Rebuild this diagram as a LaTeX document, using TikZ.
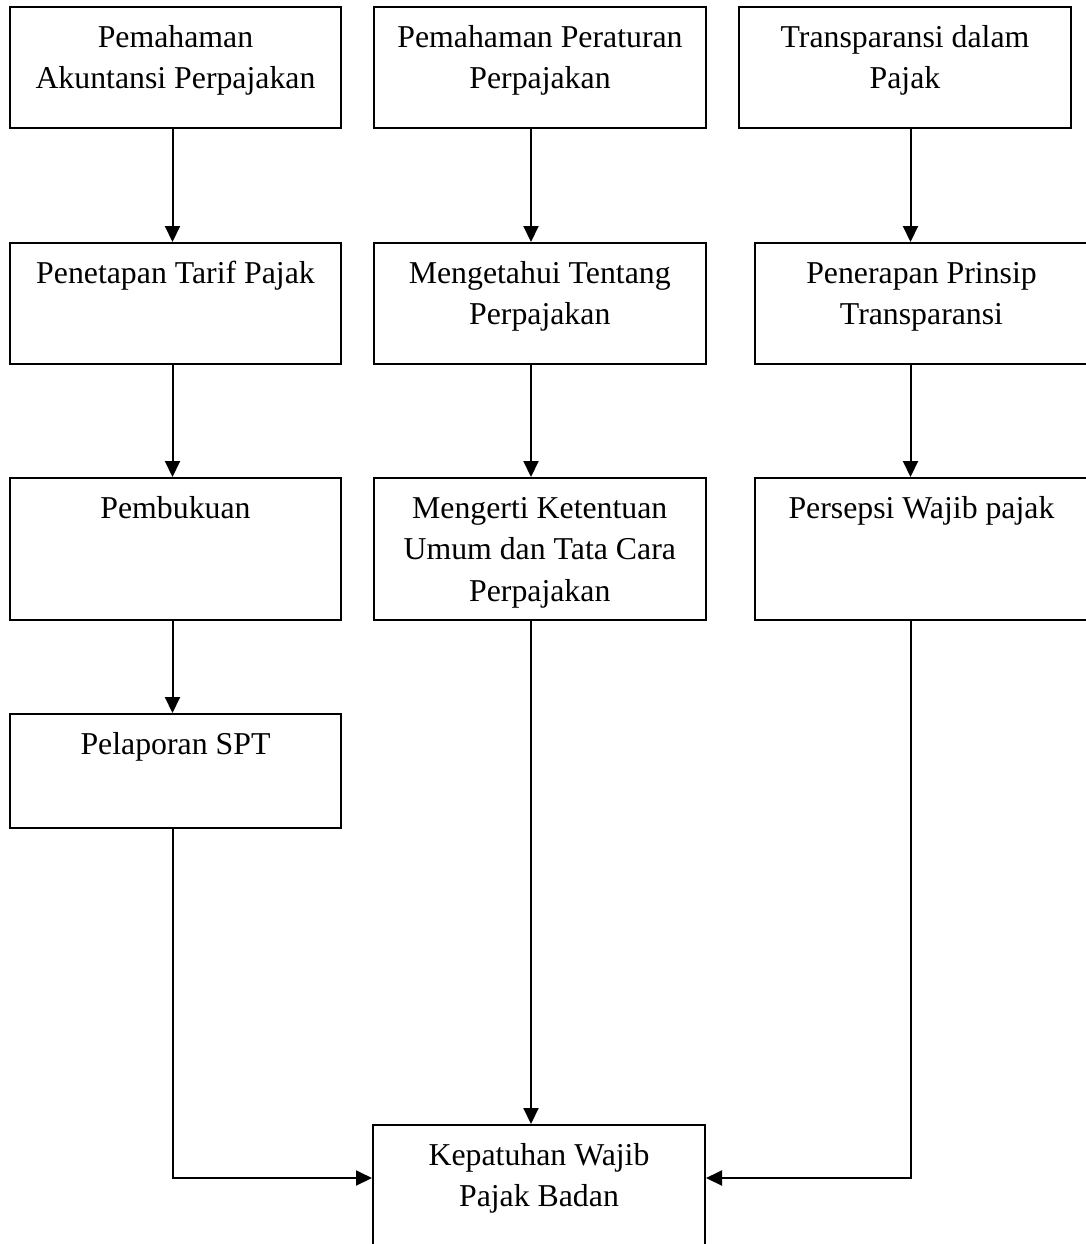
\documentclass[tikz,border=0pt]{standalone}
\usepackage{fontspec}
\setmainfont{Liberation Serif}
\usetikzlibrary{arrows.meta,calc}
\newcommand{\myTopStrut}{\rule{0pt}{11pt}}
\tikzset{
  box/.style={draw, line width=1pt, rectangle, inner sep=0pt},
  lbl/.style={anchor=north, align=center, inner sep=0pt, font=\fontsize{15.9}{20.75}\selectfont},
  arr/.style={line width=1pt, -{Triangle[length=8pt,width=7.5pt]}}
}
\begin{document}
\begin{tikzpicture}[x=0.5pt,y=-0.5pt]
\useasboundingbox (0,0) rectangle (1086,1244);
\fill[white] (0,0) rectangle (1086,1244);
\clip (0,0) rectangle (1086,1244);
% column 1
\node[box, minimum width=165.5pt, minimum height=60.5pt] (b11) at (175.5,67.5) {};
\node[box, minimum width=165.5pt, minimum height=60.5pt] (b12) at (175.5,303.5) {};
\node[box, minimum width=165.5pt, minimum height=71pt] (b13) at (175.5,549) {};
\node[box, minimum width=165.5pt, minimum height=57pt] (b14) at (175.5,771) {};
% column 2
\node[box, minimum width=166pt, minimum height=60.5pt] (b21) at (540,67.5) {};
\node[box, minimum width=166.25pt, minimum height=60.5pt] (b22) at (539.75,303.5) {};
\node[box, minimum width=166.25pt, minimum height=71pt] (b23) at (539.75,549) {};
% column 3
\node[box, minimum width=166pt, minimum height=60.5pt] (b31) at (905,67.5) {};
\node[box, minimum width=166.5pt, minimum height=60.5pt] (b32) at (921.5,303.5) {};
\node[box, minimum width=166.5pt, minimum height=71pt] (b33) at (921.5,549) {};
% final
\node[box, minimum width=166pt, minimum height=87.5pt] (fin) at (539,1212.5) {};
% labels
\node[lbl] (t11) at ($(b11.north)+(0,19)$) {\myTopStrut Pemahaman\\Akuntansi Perpajakan};
\node[lbl] (t12) at ($(b12.north)+(0,19)$) {\myTopStrut Penetapan Tarif Pajak};
\node[lbl] (t13) at ($(b13.north)+(0,19)$) {\myTopStrut Pembukuan};
\node[lbl] (t14) at ($(b14.north)+(0,19)$) {\myTopStrut Pelaporan SPT};
\node[lbl] (t21) at ($(b21.north)+(0,19)$) {\myTopStrut Pemahaman Peraturan\\Perpajakan};
\node[lbl] (t22) at ($(b22.north)+(0,19)$) {\myTopStrut Mengetahui Tentang\\Perpajakan};
\node[lbl] (t23) at ($(b23.north)+(0,19)$) {\myTopStrut Mengerti Ketentuan\\Umum dan Tata Cara\\Perpajakan};
\node[lbl] (t31) at ($(b31.north)+(0,19)$) {\myTopStrut Transparansi dalam\\Pajak};
\node[lbl] (t32) at ($(b32.north)+(0,19)$) {\myTopStrut Penerapan Prinsip\\Transparansi};
\node[lbl] (t33) at ($(b33.north)+(0,19)$) {\myTopStrut Persepsi Wajib pajak};
\node[lbl] (tf) at ($(fin.north)+(0,19)$) {\myTopStrut Kepatuhan Wajib\\Pajak Badan};
% connector x positions
\coordinate (ax1) at (172.5,0);
\coordinate (ax2) at (531,0);
\coordinate (ax3) at (910.5,0);
\coordinate (ey) at (0,1178);
% connectors
\draw[arr] (b11.south -| ax1) -- (b12.north -| ax1);
\draw[arr] (b12.south -| ax1) -- (b13.north -| ax1);
\draw[arr] (b13.south -| ax1) -- (b14.north -| ax1);
\draw[arr] (b21.south -| ax2) -- (b22.north -| ax2);
\draw[arr] (b22.south -| ax2) -- (b23.north -| ax2);
\draw[arr] (b31.south -| ax3) -- (b32.north -| ax3);
\draw[arr] (b32.south -| ax3) -- (b33.north -| ax3);
\draw[arr] (b14.south -| ax1) |- (fin.west |- ey);
\draw[arr] (b23.south -| ax2) -- (fin.north -| ax2);
\draw[arr] (b33.south -| ax3) |- (fin.east |- ey);
\end{tikzpicture}
\end{document}
